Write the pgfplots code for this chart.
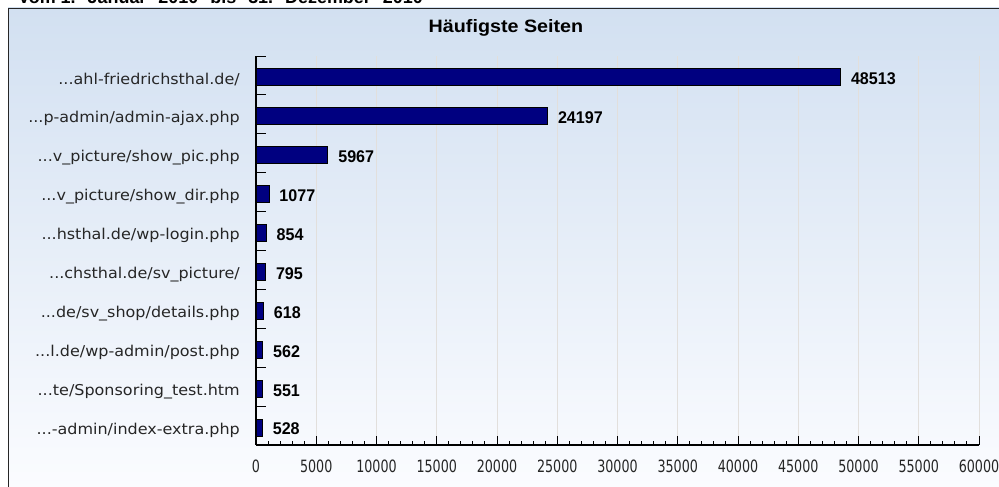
\documentclass[border=0pt]{standalone}
\usepackage{pgfplots}
\pgfplotsset{compat=1.18}
\usepackage{fontspec}
\setmainfont{DejaVu Sans}
\newfontfamily\labfont[FakeStretch=1.07]{DejaVu Sans}
\newfontfamily\tickfont[FakeStretch=0.75]{DejaVu Sans}
\newfontfamily\valfont[FakeStretch=0.95]{Liberation Sans Bold}
\newfontfamily\titlefont[FakeStretch=1.1]{Liberation Sans Bold}
\newfontfamily\headfont{Liberation Sans Bold}
\newcommand{\dd}{.\kern0pt.\kern0pt.}
\definecolor{bgtop}{RGB}{210,224,241}
\definecolor{bgbot}{RGB}{251,252,255}
\definecolor{navybar}{RGB}{0,0,128}
\definecolor{gridc}{RGB}{226,223,220}
\begin{document}
\begin{tikzpicture}
\useasboundingbox (0,0) rectangle (999bp,487bp);
\shade[top color=bgtop, bottom color=bgbot] (8bp,-2bp) rectangle (1005bp,479bp);
\draw[black!85, line width=1.2bp] (8.6bp,-3bp) -- (8.6bp,478.6bp) -- (1006bp,478.6bp);
\node[anchor=base west, inner sep=0pt, font=\headfont\fontsize{18}{18}\selectfont] at (18bp,483bp)
  {Vom 1.\hspace{12bp}Januar\hspace{12bp}2010\hspace{12bp}bis\hspace{12bp}31.\hspace{12bp}Dezember\hspace{12bp}2010};
\node[anchor=base, inner sep=0pt, font=\titlefont\fontsize{18}{18}\selectfont] at (506bp,454bp) {Häufigste Seiten};
\begin{axis}[
  at={(256bp,42bp)}, anchor=south west,
  scale only axis, width=723bp, height=389bp,
  xmin=0, xmax=60000, ymin=-0.5, ymax=9.5,
  enlargelimits=false, y dir=reverse, clip=false,
  axis x line*=bottom, axis y line*=left,
  axis line style={-, black, line width=1.3bp},
  xtick={0,5000,...,60000}, minor x tick num=4,
  scaled x ticks=false,
  /pgf/number format/1000 sep={},
  /pgf/number format/assume math mode=true,
  tick align=inside,
  major tick length=9.5bp, minor tick length=4bp,
  tick style={black, line width=1bp},
  ytick={-0.5,0.5,1.5,2.5,3.5,4.5,5.5,6.5,7.5,8.5},
  yticklabels={{\dd ahl-friedrichsthal.de/},{\dd p-admin/admin-ajax.php},{\dd v\_picture/show\_pic.php},{\dd v\_picture/show\_dir.php},{\dd hsthal.de/wp-login.php},{\dd chsthal.de/sv\_picture/},{\dd de/sv\_shop/details.php},{\dd l.de/wp-admin/post.php},{\dd te/Sponsoring\_test.htm},{\dd -admin/index-extra.php}},
  yticklabel style={anchor=base east, inner sep=0pt, xshift=-16bp, yshift=-28bp, font=\labfont\fontsize{15}{15}\selectfont, text=black!85},
  xticklabel style={anchor=base, inner sep=0pt, yshift=-27bp, font=\tickfont\fontsize{17}{17}\selectfont, text=black!85},
  xmajorgrids, major x grid style={gridc, line width=1bp},
]
\addplot[xbar, bar width=17bp, fill=navybar, draw=black, line width=0.9bp,
  nodes near coords, nodes near coords align={horizontal},
  nodes near coords style={anchor=base west, inner sep=0pt, xshift=10bp, yshift=-7.5bp, font=\valfont\fontsize{17}{17}\selectfont, text=black}]
coordinates {
(48513,0.05) (24197,1.05) (5967,2.05) (1077,3.05) (854,4.05)
(795,5.05) (618,6.05) (562,7.05) (551,8.05) (528,9.05)
};
\end{axis}
\end{tikzpicture}
\end{document}
